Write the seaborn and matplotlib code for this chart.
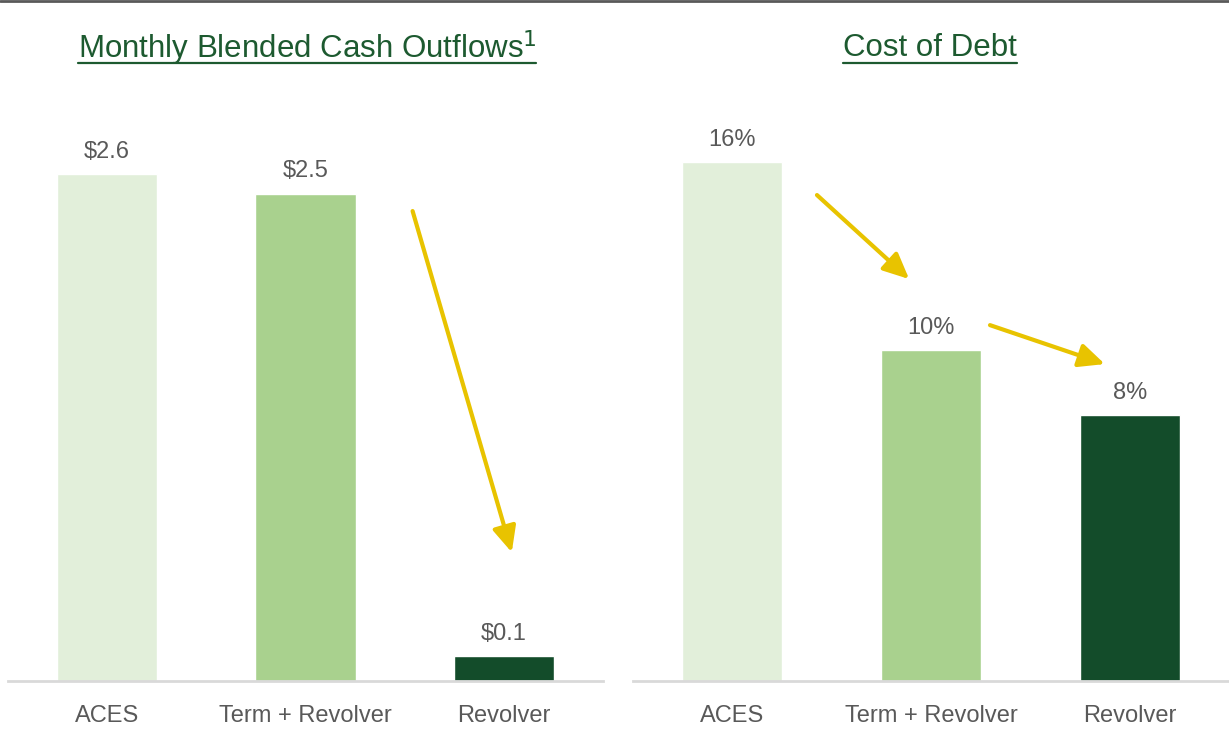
import matplotlib
matplotlib.use("Agg")
import matplotlib.pyplot as plt
import seaborn as sns
import pandas as pd
from matplotlib import font_manager
from matplotlib.lines import Line2D

categories = ["ACES", "Term + Revolver", "Revolver"]
cash_outflows = [2.6, 2.5, 0.13]
cost_of_debt = [16.0, 10.2, 8.2]
titles = ["Monthly Blended Cash Outflows", "Cost of Debt"]

names = sorted({f.name for f in font_manager.fontManager.ttflist})

sns.set_theme(style="white")
narrow = "Liberation Sans Narrow" if "Liberation Sans Narrow" in names else "Liberation Sans"
plt.rcParams["font.family"] = [narrow, "DejaVu Sans"]

bar_colors = ["#e2efda", "#a9d18e", "#134c2a"]
title_color = "#1d5a30"
label_color = "#595959"
arrow_color = "#e8c300"

fig = plt.figure(figsize=(12.29, 7.35), dpi=100)
W, H = 1229, 735
ax1 = fig.add_axes([8 / W, 54 / H, 595 / W, 591 / H])
ax2 = fig.add_axes([633 / W, 54 / H, 596 / W, 591 / H])

df1 = pd.DataFrame({"cat": categories, "val": cash_outflows})
df2 = pd.DataFrame({"cat": categories, "val": cost_of_debt})

sns.barplot(data=df1, x="cat", y="val", hue="cat", palette=bar_colors, width=0.505,
            legend=False, ax=ax1, saturation=1)
sns.barplot(data=df2, x="cat", y="val", hue="cat", palette=bar_colors, width=0.505,
            legend=False, ax=ax2, saturation=1)

ax1.set_ylim(0, 591 / 195.0)
ax2.set_ylim(0, 591 / 32.44)

for ax, fmt in ((ax1, lambda v: f"${v:.1f}"), (ax2, lambda v: f"{v:.0f}%")):
    ax.set_xlim(-0.5, 2.5)
    ax.set_xlabel("")
    ax.set_ylabel("")
    ax.set_yticks([])
    for s in ("top", "left", "right"):
        ax.spines[s].set_visible(False)
    ax.spines["bottom"].set_color("#d9d9d9")
    ax.spines["bottom"].set_linewidth(2)
    ax.tick_params(axis="x", length=0, pad=17, labelsize=17, labelcolor=label_color)
    for cont in ax.containers:
        ax.bar_label(cont, labels=[fmt(v) for v in cont.datavalues], padding=8,
                     fontsize=17, color=label_color)
    ax.patch.set_alpha(0)

# arrows
arrow_kw = dict(arrowstyle="-|>,head_length=1.3,head_width=0.6", color=arrow_color, lw=3,
                shrinkA=0, shrinkB=0)
ax1.annotate("", xy=(2.04, 0.66), xytext=(1.54, 2.41), arrowprops=arrow_kw)
ax2.annotate("", xy=(0.89, 12.39), xytext=(0.426, 14.98), arrowprops=arrow_kw)
ax2.annotate("", xy=(1.875, 9.77), xytext=(1.297, 10.97), arrowprops=arrow_kw)

# titles with underline
title_texts = []
for ax, t, xc, sup in ((ax1, titles[0], 307, True), (ax2, titles[1], 930, False)):
    label = t + (r"$^{1}$" if sup else "")
    txt = fig.text(xc / W, 1 - 48 / H, label, ha="center", va="center", fontsize=22.5,
                   color=title_color)
    title_texts.append(txt)

# top rule
fig.add_artist(Line2D([0, 1], [1 - 1 / H, 1 - 1 / H], color="#595959", lw=2,
                      transform=fig.transFigure))

fig.canvas.draw()
r = fig.canvas.get_renderer()
for txt in title_texts:
    bb = txt.get_window_extent(r)
    y = 1 - 63 / H
    fig.add_artist(Line2D([bb.x0 / W, bb.x1 / W], [y, y], color=title_color,
                          lw=1.6, transform=fig.transFigure))

fig.savefig("out.png", dpi=100)
